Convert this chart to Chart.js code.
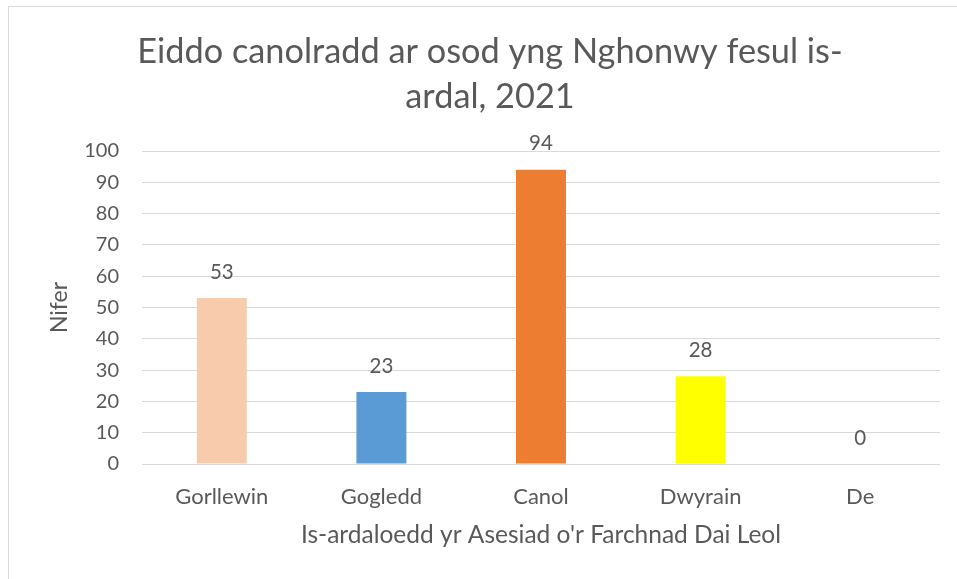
<!DOCTYPE html>
<html>
<head>
<meta charset="utf-8">
<script src="https://cdn.jsdelivr.net/npm/chart.js@4/dist/chart.umd.min.js"></script>
<style>
  html, body { margin: 0; padding: 0; background: #fff; overflow: hidden; }
  #wrap { position: relative; width: 957px; height: 579px; }
  #frame { position: absolute; left: 8px; top: 6px; width: 1000px; height: 700px; border: 1px solid #d9d9d9; box-sizing: border-box; }
  canvas { position: absolute; left: 0; top: 0; }
</style>
</head>
<body>
<div id="wrap">
  <div id="frame"></div>
  <canvas id="c" width="957" height="579"></canvas>
</div>
<script>
const titleLines = ["Eiddo canolradd ar osod yng Nghonwy fesul is-", "ardal, 2021"];
const categories = ["Gorllewin", "Gogledd", "Canol", "Dwyrain", "De"];
const values = [53, 23, 94, 28, 0];
const barColors = ["#F8CBAD", "#5B9BD5", "#ED7D31", "#FFFF00", "#A5A5A5"];
const yAxisTitle = "Nifer";
const xAxisTitle = "Is-ardaloedd yr Asesiad o'r Farchnad Dai Leol";

const FONT = "Lato, 'Open Sans', sans-serif";
const TEXT = "#595959";

const chartTitle = {
  id: 'chartTitle',
  afterDraw(chart) {
    const ctx = chart.ctx;
    ctx.save();
    ctx.font = "34.3px " + FONT;
    ctx.fillStyle = TEXT;
    ctx.textAlign = 'center';
    ctx.textBaseline = 'alphabetic';
    ctx.fillText(titleLines[0], 490, 63);
    ctx.fillText(titleLines[1], 490, 108);
    ctx.restore();
  }
};

const dataLabels = {
  id: 'dataLabels',
  afterDatasetsDraw(chart) {
    const ctx = chart.ctx;
    const meta = chart.getDatasetMeta(0);
    ctx.save();
    ctx.font = "20.5px " + FONT;
    ctx.fillStyle = TEXT;
    ctx.textAlign = 'center';
    ctx.textBaseline = 'middle';
    meta.data.forEach((bar, i) => {
      ctx.fillText(String(values[i]), bar.x, bar.y - 26);
    });
    ctx.restore();
  }
};

new Chart(document.getElementById('c'), {
  type: 'bar',
  data: {
    labels: categories,
    datasets: [{
      data: values,
      backgroundColor: barColors,
      borderWidth: 0,
      categoryPercentage: 1,
      barPercentage: 0.313
    }]
  },
  options: {
    responsive: false,
    animation: false,
    devicePixelRatio: 1,
    layout: { padding: { left: 0, right: 17, top: 151, bottom: 0 } },
    plugins: {
      legend: { display: false },
      tooltip: { enabled: false },
      title: { display: false }
    },
    scales: {
      x: {
        grid: { display: false, drawTicks: false },
        border: { display: false },
        ticks: { color: TEXT, font: { family: FONT, size: 22 }, padding: 20, maxRotation: 0 },
        title: {
          display: true, text: xAxisTitle, color: TEXT,
          font: { family: FONT, size: 24.5 }, padding: { top: 0, bottom: 29 }
        },
        afterFit(scale) { scale.height = 115; }
      },
      y: {
        min: 0, max: 100,
        ticks: { stepSize: 10, color: TEXT, font: { family: FONT, size: 20 }, padding: 23 },
        grid: { color: "#d9d9d9", lineWidth: 1, drawTicks: false },
        border: { display: false },
        title: {
          display: true, text: yAxisTitle, color: TEXT,
          font: { family: FONT, size: 23 }, padding: { top: 46, bottom: 0 }
        },
        afterFit(scale) { scale.width = 142; }
      }
    }
  },
  plugins: [dataLabels, chartTitle]
});
</script>
</body>
</html>
